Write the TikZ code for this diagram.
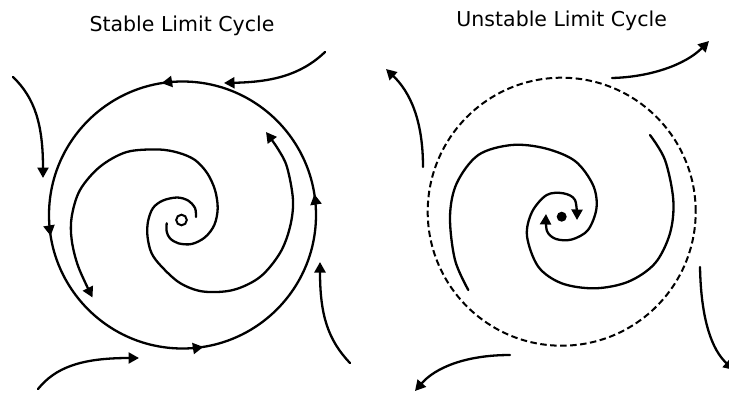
\documentclass[tikz,border=0pt]{standalone}
\usepackage{fontspec}
\setmainfont{DejaVu Sans}
\usetikzlibrary{arrows.meta,decorations.markings}
\begin{document}
\begin{tikzpicture}[x=1pt,y=1pt,
  traj/.style={line width=2.3pt, line cap=round},
  tipped/.style={-{Triangle[length=10.5pt,width=11pt]}},
  ttl/.style={anchor=base, inner sep=0pt, font=\fontsize{20.5}{24}\selectfont},
  cycarrows/.style={postaction={decorate}, decoration={markings,
    mark=at position 0.025 with {\arrow{Triangle[length=10.5pt,width=11pt]}},
    mark=at position 0.275 with {\arrow{Triangle[length=10.5pt,width=11pt]}},
    mark=at position 0.525 with {\arrow{Triangle[length=10.5pt,width=11pt]}},
    mark=at position 0.775 with {\arrow{Triangle[length=10.5pt,width=11pt]}}}}]
\useasboundingbox (0,0) rectangle (729,-392);
\clip (0,0) rectangle (729,-392);

% titles
\node[ttl] (t1) at (182,-31) {Stable Limit Cycle};
\node[ttl] (t2) at (561.7,-26.5) {Unstable Limit Cycle};

% ---------- stable limit cycle ----------
\coordinate (cL) at (182.5,-215);
\draw[traj, cycarrows] (cL) circle[radius=133.5];
\node[circle, draw, line width=2pt, minimum size=10.6pt, inner sep=0pt] (fL) at (181.5,-220) {};

\draw[traj, tipped] plot[smooth, tension=0.55] coordinates {
  (196,-217) (195,-208) (188,-200.5) (177,-197.5) (163,-200.5) (153,-208)
  (148,-221.5) (147.5,-236.5) (151.5,-253) (161.5,-266.5) (180,-283)
  (203,-291.5) (233,-290) (260,-277) (280,-253) (290,-227) (293,-200)
  (287,-167) (278,-149) (266,-132)};
\draw[traj, tipped] plot[smooth, tension=0.55] coordinates {
  (166.7,-223.3) (166.7,-231.7) (170,-238.3) (178.3,-243.3) (191.7,-244)
  (205,-237.3) (214.3,-225) (217.7,-208.3) (215,-190) (207.3,-173.3)
  (195,-160) (178.3,-152.7) (158,-149.5) (126.7,-152) (100,-166.7)
  (80,-190) (71.7,-216.7) (71.7,-240) (78.3,-266.7) (92.5,-297.5)};

\draw[traj, tipped] (325,-52) .. controls (300,-76) and (270,-82) .. (224,-83);
\draw[traj, tipped] (13,-77) .. controls (35,-98) and (43,-125) .. (43,-178);
\draw[traj, tipped] (38,-389) .. controls (55,-368) and (80,-358) .. (139,-358);
\draw[traj, tipped] (350,-363) .. controls (328,-340) and (320,-315) .. (320,-262);

% ---------- unstable limit cycle ----------
\coordinate (cR) at (561.7,-211.7);
\draw[line width=2pt, dash pattern=on 6.5pt off 3.5pt] (cR) circle[radius=134];
\fill (561.7,-216.7) circle[radius=5];

\draw[traj, tipped] plot[smooth, tension=0.55] coordinates {
  (650,-135) (665,-160) (673.3,-200) (670,-233.3) (655,-263.3) (628.3,-281.7)
  (595,-288.3) (561.7,-283.3) (538.3,-266.7) (527,-236) (532,-212)
  (546.7,-195) (563.3,-193.3) (575,-200) (577,-220)};
\draw[traj, tipped] plot[smooth, tension=0.55] coordinates {
  (468.3,-290) (455,-260) (450,-216.7) (456.7,-183.3) (478.3,-155)
  (511.7,-145) (545,-148.3) (575,-161) (593,-185) (596.5,-208) (588,-230)
  (571.7,-239.5) (556,-239) (547,-231) (546,-214)};

\draw[traj, tipped] (612,-78) .. controls (650,-77) and (685,-65) .. (709,-41);
\draw[traj, tipped] (423,-167) .. controls (423,-120) and (410,-92) .. (386,-69);
\draw[traj, tipped] (510,-355) .. controls (465,-355) and (435,-368) .. (415,-391);
\draw[traj, tipped] (700,-267) .. controls (701,-320) and (712,-350) .. (734,-370);
\end{tikzpicture}
\end{document}
